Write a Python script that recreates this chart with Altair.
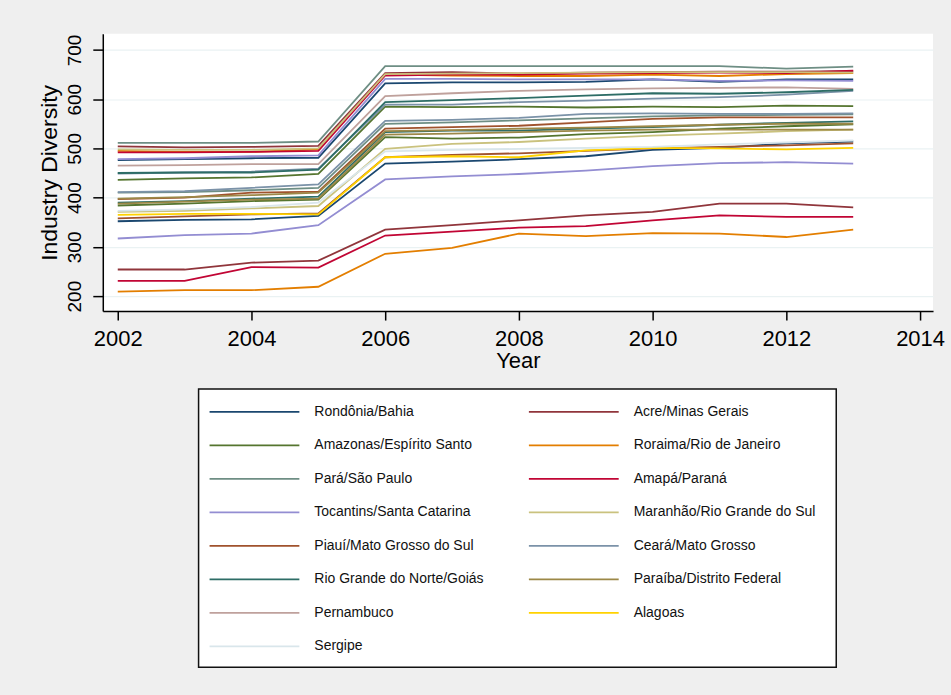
import altair as alt
import pandas as pd

# Years covered by the panel
years = list(range(2002, 2014))

# Industry diversity by state, 2002-2013
rondonia = [352, 355, 356, 363, 469, 473, 478, 484, 497, 501, 510, 514]
acre = [254, 254, 268, 272, 335, 344, 354, 364, 371, 388, 388, 380]
amazonas = [384, 388, 393, 396, 523, 520, 522, 529, 533, 540, 545, 549]
roraima = [209, 212, 212, 219, 286, 298, 327, 322, 328, 327, 320, 335]
para = [410, 411, 415, 420, 550, 553, 557, 561, 565, 567, 568, 569]
amapa = [231, 231, 259, 258, 323, 331, 339, 342, 354, 364, 361, 361]
tocantins = [317, 324, 327, 344, 437, 443, 448, 455, 464, 470, 472, 469]
maranhao = [371, 373, 378, 383, 499, 509, 513, 520, 526, 530, 535, 538]
piaui = [358, 362, 366, 368, 482, 487, 490, 495, 500, 503, 506, 510]
ceara = [411, 413, 420, 427, 556, 558, 562, 570, 571, 570, 570, 571]
rio_grande_do_norte = [390, 393, 398, 402, 533, 536, 536, 540, 543, 548, 552, 555]
paraiba = [388, 392, 396, 398, 528, 530, 533, 536, 538, 538, 538, 538]
pernambuco = [465, 466, 468, 468, 606, 612, 617, 620, 622, 623, 624, 621]
alagoas = [365, 367, 367, 366, 482, 484, 482, 496, 501, 500, 498, 501]
sergipe = [373, 376, 381, 390, 494, 497, 499, 501, 503, 508, 512, 516]
bahia = [476, 478, 480, 481, 632, 634, 634, 635, 640, 635, 640, 640]
minas_gerais = [504, 502, 503, 505, 653, 655, 652, 654, 655, 656, 656, 657]
espirito_santo = [436, 439, 441, 448, 585, 584, 585, 583, 585, 584, 587, 586]
rio_de_janeiro = [495, 493, 493, 498, 650, 648, 647, 647, 650, 647, 651, 653]
sao_paulo = [511, 511, 511, 514, 667, 667, 667, 667, 667, 667, 662, 666]
parana = [492, 492, 493, 495, 648, 650, 650, 652, 653, 654, 653, 658]
santa_catarina = [478, 480, 484, 486, 641, 641, 640, 640, 640, 637, 638, 637]
rio_grande_do_sul = [498, 497, 497, 500, 651, 652, 653, 654, 655, 655, 655, 654]
mato_grosso_do_sul = [397, 400, 410, 412, 540, 543, 546, 553, 560, 563, 563, 563]
mato_grosso = [449, 451, 453, 459, 589, 589, 594, 597, 601, 604, 609, 617]
goias = [450, 451, 451, 457, 594, 598, 602, 607, 612, 611, 614, 619]
distrito_federal = [398, 401, 405, 410, 535, 537, 540, 542, 545, 548, 550, 550]

states = [
    "Rondônia", "Acre", "Amazonas", "Roraima", "Pará", "Amapá", "Tocantins",
    "Maranhão", "Piauí", "Ceará", "Rio Grande do Norte", "Paraíba", "Pernambuco",
    "Alagoas", "Sergipe", "Bahia", "Minas Gerais", "Espírito Santo",
    "Rio de Janeiro", "São Paulo", "Paraná", "Santa Catarina",
    "Rio Grande do Sul", "Mato Grosso do Sul", "Mato Grosso", "Goiás",
    "Distrito Federal",
]
series = [
    rondonia, acre, amazonas, roraima, para, amapa, tocantins, maranhao, piaui,
    ceara, rio_grande_do_norte, paraiba, pernambuco, alagoas, sergipe, bahia,
    minas_gerais, espirito_santo, rio_de_janeiro, sao_paulo, parana,
    santa_catarina, rio_grande_do_sul, mato_grosso_do_sul, mato_grosso, goias,
    distrito_federal,
]

# Fifteen pen colours, reused in order, so each key covers up to two states
legend_labels = [
    "Rondônia/Bahia", "Acre/Minas Gerais", "Amazonas/Espírito Santo",
    "Roraima/Rio de Janeiro", "Pará/São Paulo", "Amapá/Paraná",
    "Tocantins/Santa Catarina", "Maranhão/Rio Grande do Sul",
    "Piauí/Mato Grosso do Sul", "Ceará/Mato Grosso",
    "Rio Grande do Norte/Goiás", "Paraíba/Distrito Federal", "Pernambuco",
    "Alagoas", "Sergipe",
]
colors = [
    "#1a476f", "#90353b", "#55752f", "#e37e00", "#6e8e84", "#c10534",
    "#938dd2", "#cac27e", "#a0522d", "#7b92a8", "#2d6d66", "#9c8847",
    "#bfa19c", "#ffd200", "#d9e6eb",
]

FONT = "Liberation Sans"

rows = []
for i, (state, vals) in enumerate(zip(states, series)):
    for yr, v in zip(years, vals):
        rows.append({"state": state, "group": legend_labels[i % len(legend_labels)],
                     "year": yr, "value": v})
df = pd.DataFrame(rows)

color_scale = alt.Scale(domain=legend_labels, range=colors)

main = alt.Chart(df).mark_line(strokeWidth=1.8).encode(
    x=alt.X("year:Q",
            scale=alt.Scale(domain=[2001.776, 2014.194], nice=False, zero=False),
            axis=alt.Axis(values=list(range(2002, 2015, 2)), format="d", title="Year",
                          grid=False, tickSize=9, labelPadding=8, labelFontSize=22,
                          titleFontSize=22, titlePadding=2)),
    y=alt.Y("value:Q",
            scale=alt.Scale(domain=[169.6, 733], nice=False, zero=False),
            axis=alt.Axis(values=list(range(200, 701, 100)), title="Industry Diversity",
                          grid=True, gridColor="#eaf2f3", gridWidth=1.2, tickSize=10,
                          labelAngle=270, labelAlign="center", labelBaseline="alphabetic",
                          labelPadding=12, labelFontSize=19, titleFontSize=23,
                          titlePadding=4)),
    color=alt.Color("group:N", scale=color_scale, legend=None),
    detail="state:N",
    order="year:Q",
).properties(width=832, height=278,
             view=alt.ViewBackground(fill="white", stroke=None))

# Key: two columns of pen samples with their labels, in a framed box
leg_df = pd.DataFrame({
    "label": legend_labels,
    "row": [i // 2 for i in range(len(legend_labels))],
    "col": [i % 2 for i in range(len(legend_labels))],
})
kx = alt.X("col:Q", scale=alt.Scale(domain=[0, 1], range=[56, 376]), axis=None)
ky = alt.Y("row:Q", scale=alt.Scale(domain=[0, 7], range=[23, 258]), axis=None)

key_lines = alt.Chart(leg_df).mark_point(
    shape="stroke", size=8100, strokeWidth=1.8, filled=False, opacity=1
).encode(x=kx, y=ky, color=alt.Color("label:N", scale=color_scale, legend=None))

key_text = alt.Chart(leg_df).mark_text(
    align="left", baseline="middle", dx=60, fontSize=14, font=FONT, color="#111111"
).encode(x=kx, y=ky, text="label:N")

key = alt.layer(key_lines, key_text).properties(
    width=639, height=279,
    view=alt.ViewBackground(fill="white", stroke="#111111", strokeWidth=1.5),
)

spacer = alt.Chart(pd.DataFrame({"v": [0]})).mark_point(opacity=0).encode(
    x=alt.value(0), y=alt.value(0)
).properties(width=95, height=279, view=alt.ViewBackground(stroke=None))

bottom = alt.hconcat(spacer, key, spacing=0).resolve_scale(
    x="independent", y="independent")

chart = alt.vconcat(main, bottom, spacing=14).resolve_scale(
    x="independent", y="independent"
).properties(
    background="#efefef",
    padding={"left": 38, "top": 33, "right": 6, "bottom": 27},
).configure_axis(
    domainColor="black", domainWidth=1.5, tickColor="black", tickWidth=1.5,
    labelColor="black", titleColor="black", labelFont=FONT, titleFont=FONT,
    titleFontWeight="normal",
).configure_concat(spacing=0)

chart.save("out.html", embed_options={"renderer": "svg", "actions": False})
